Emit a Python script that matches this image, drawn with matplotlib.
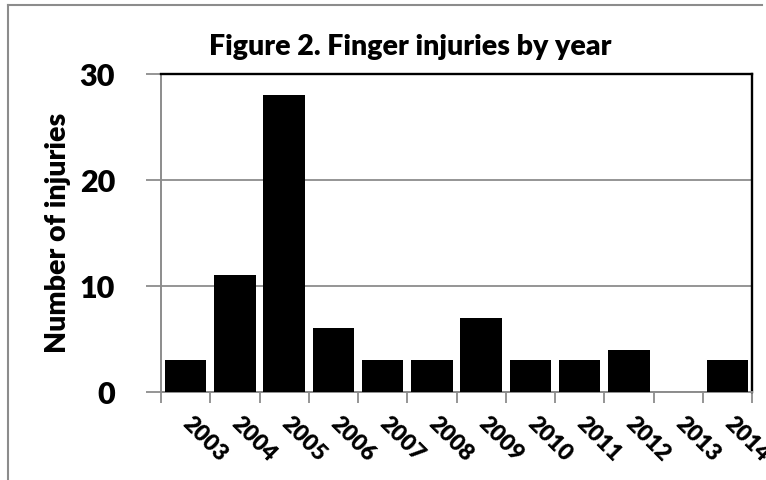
import matplotlib
matplotlib.use("Agg")
import matplotlib.pyplot as plt
import numpy as np
from matplotlib.lines import Line2D
from matplotlib.transforms import ScaledTranslation

years = ["2003", "2004", "2005", "2006", "2007", "2008", "2009", "2010", "2011", "2012", "2013", "2014"]
injuries = [3, 11, 28, 6, 3, 3, 7, 3, 3, 4, 0, 3]
y_ticks = [0, 10, 20, 30]
title = "Figure 2. Finger injuries by year"
ylabel = "Number of injuries"

plt.rcParams['font.family'] = ['Lato', 'DejaVu Sans']
grey = "#8c8c8c"
W = "heavy"

fig = plt.figure(figsize=(7.66, 4.8), dpi=100)
ax = fig.add_axes([161/766, 1-392/480, (752-161)/766, (392-74)/480])

x = np.arange(len(years))
ax.bar(x, injuries, width=0.84, color="black", zorder=3)

ax.set_xlim(-0.5, len(years) - 0.5)
ax.set_ylim(0, 30)
ax.set_yticks(y_ticks)
ax.yaxis.grid(True, color=grey, lw=1.3, zorder=0)
ax.set_axisbelow(True)

ax.set_xticks(x)
ax.set_xticklabels(years, rotation=-45, ha="left", va="top", rotation_mode="anchor",
                   fontsize=16.5, fontweight=W)
ax.tick_params(axis="x", which="major", length=0, pad=15)
offset = ScaledTranslation(8/100, 0, fig.dpi_scale_trans)
for lab in ax.get_xticklabels():
    lab.set_transform(lab.get_transform() + offset)
ax.set_xticks(np.arange(-0.5, len(years), 1.0), minor=True)
ax.tick_params(axis="x", which="minor", length=8, width=1.3, color=grey, direction="out")

ax.tick_params(axis="y", length=11, width=1.3, color=grey, labelsize=22, pad=22)
for lab in ax.get_yticklabels():
    lab.set_fontweight(W)

for s in ["left", "bottom"]:
    ax.spines[s].set_color(grey)
    ax.spines[s].set_linewidth(1.4)
for s in ["top", "right"]:
    ax.spines[s].set_color("black")
    ax.spines[s].set_linewidth(1.7)

ax.set_ylabel(ylabel, fontsize=20.5, fontweight=W, labelpad=6)

fig.text(410/766, 1-47/480, title, ha="center", va="center", fontsize=20.5, fontweight=W)

# figure border (top and left)
fig.add_artist(Line2D([8/766, 762/766], [1-5/480, 1-5/480], color=grey, lw=1.5, transform=fig.transFigure))
fig.add_artist(Line2D([8/766, 8/766], [1-5/480, 0], color=grey, lw=1.5, transform=fig.transFigure))

fig.savefig("out.png", dpi=100)
